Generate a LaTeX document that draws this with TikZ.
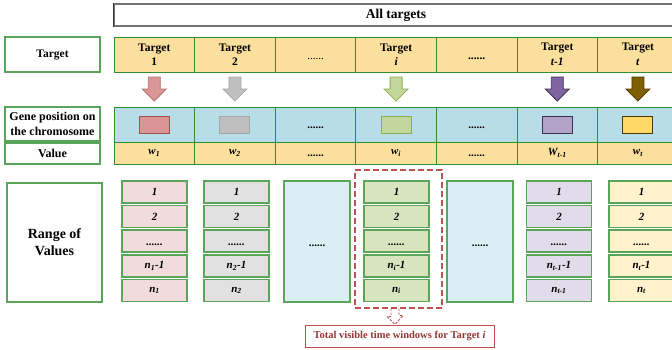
\documentclass[tikz,border=0pt]{standalone}
\usepackage{fontspec}
\setmainfont{Liberation Serif}
\definecolor{cellY}{HTML}{FAE09C}
\definecolor{cellB}{HTML}{B7DEE8}
\definecolor{grn}{HTML}{2F8F2F}
\definecolor{lgrn}{HTML}{5BA55B}
\definecolor{rpink}{HTML}{F2DCDB}
\definecolor{rgray}{HTML}{E1E1E1}
\definecolor{rgreen}{HTML}{D7E4BD}
\definecolor{rpurp}{HTML}{E2DCEA}
\definecolor{ryel}{HTML}{FFF2CC}
\definecolor{rblue}{HTML}{DAEEF3}
\definecolor{redA}{HTML}{D99694}
\definecolor{redD}{HTML}{A0504D}
\definecolor{grayA}{HTML}{BFBFBF}
\definecolor{grayD}{HTML}{A6A6A6}
\definecolor{greenA}{HTML}{C3D69B}
\definecolor{greenD}{HTML}{8DAE50}
\definecolor{purpA}{HTML}{8064A2}
\definecolor{purpB}{HTML}{B3A2C7}
\definecolor{purpD}{HTML}{403152}
\definecolor{brownA}{HTML}{7F6000}
\definecolor{brownD}{HTML}{4A3800}
\definecolor{yelA}{HTML}{FFD966}
\definecolor{callR}{HTML}{C0504D}
\definecolor{callT}{HTML}{943634}
\tikzset{
  cellbase/.style={draw=grn, line width=1pt, minimum width=80.6pt, inner sep=0pt, align=center},
  tcell/.style={cellbase, fill=cellY, minimum height=35pt, font=\bfseries\fontsize{11.5}{14.5}\selectfont},
  gcell/.style={cellbase, fill=cellB, minimum height=35pt, font=\bfseries\fontsize{11}{13}\selectfont},
  vcell/.style={cellbase, fill=cellY, minimum height=22pt, font=\bfseries\itshape\fontsize{11}{13}\selectfont},
  lab/.style={draw=lgrn, line width=1.2pt, fill=white, minimum width=95pt, inner sep=0pt, align=center},
  rbox/.style={draw=lgrn, line width=1.3pt, minimum width=65pt, minimum height=22pt, inner sep=0pt, font=\bfseries\itshape\fontsize{11}{13}\selectfont},
  bigbox/.style={draw=lgrn, line width=1.3pt, fill=rblue, minimum width=66pt, minimum height=121pt, inner sep=0pt, font=\bfseries\fontsize{11}{13}\selectfont},
  gene/.style={minimum width=30pt, minimum height=17pt, inner sep=0pt, line width=1pt},
  barrow/.style={line width=0.8pt},
  dashbox/.style={draw=callR, line width=1.2pt, dash pattern=on 6pt off 3pt, minimum width=87pt, minimum height=138pt, inner sep=0pt},
  callout/.style={draw=callR, line width=1pt, fill=white, minimum width=189pt, minimum height=22pt, inner sep=0pt, text=callT, font=\bfseries\fontsize{10.5}{12}\selectfont}
}
\newcommand{\blkarr}[3]{%
  \filldraw[barrow, fill=#2, draw=#3] (#1-6,77) -- (#1+6,77) -- (#1+6,89) -- (#1+12,89) -- (#1,101) -- (#1-12,89) -- (#1-6,89) -- cycle;}
\newcommand{\dotsdown}[1]{\raisebox{-#1pt}[0pt][0pt]{......}}
\begin{document}
\begin{tikzpicture}[x=1pt, y=-1pt]
\useasboundingbox (0,0) rectangle (672,349);
\clip (0,0) rectangle (672,349);
% top box
\node[draw=gray!90!black, line width=1.5pt, fill=white, minimum width=564pt, minimum height=22pt, inner sep=0pt,
  font=\bfseries\fontsize{13.5}{15}\selectfont] (all) at (396,15) {All targets};
\draw[line width=1.5pt, black!80] (all.north west) -- (all.south west);
% label boxes
\node[lab, minimum height=35pt, font=\bfseries\fontsize{11.5}{14}\selectfont] (lt) at (52.5,54.5) {Target};
\node[lab, minimum height=34pt, font=\bfseries\fontsize{12}{15}\selectfont] (lg) at (52.5,124) {Gene position on\\the chromosome};
\node[lab, minimum height=21pt, font=\bfseries\fontsize{12}{14}\selectfont] (lv) at (52.5,153.5) {Value};
\node[lab, minimum height=119pt, font=\bfseries\fontsize{14}{17}\selectfont] (lr) at (54.5,242.5) {Range of\\Values};
% target row
\node[tcell] (t1) at (154.3,54.5) {Target\\1};
\node[tcell] (t2) at (234.9,54.5) {Target\\2};
\node[tcell, font=\mdseries\fontsize{11}{13}\selectfont] (t3) at (315.5,54.5) {\dotsdown{4.5}};
\node[tcell] (t4) at (396.1,54.5) {Target\\\textit{i}};
\node[tcell] (t5) at (476.7,54.5) {\dotsdown{5}};
\node[tcell] (t6) at (557.3,54.5) {Target\\\textit{t-1}};
\node[tcell] (t7) at (637.9,54.5) {Target\\\textit{t}};
% gene row
\node[gcell] (g1) at (154.3,124.5) {};
\node[gcell] (g2) at (234.9,124.5) {};
\node[gcell] (g3) at (315.5,124.5) {\dotsdown{3.5}};
\node[gcell] (g4) at (396.1,124.5) {};
\node[gcell] (g5) at (476.7,124.5) {\dotsdown{3.5}};
\node[gcell] (g6) at (557.3,124.5) {};
\node[gcell] (g7) at (637.9,124.5) {};
\node[gene, fill=redA, draw=redD] (p1) at (g1) {};
\node[gene, fill=grayA, draw=grayD] (p2) at (g2) {};
\node[gene, fill=greenA, draw=greenD] (p4) at (g4) {};
\node[gene, fill=purpB, draw=purpD] (p6) at (g6) {};
\node[gene, fill=yelA, draw=brownD] (p7) at (g7) {};
% value row
\node[vcell] (v1) at (154.3,153) {w\textsubscript{1}};
\node[vcell] (v2) at (234.9,153) {w\textsubscript{2}};
\node[vcell, font=\bfseries\fontsize{11}{13}\selectfont] (v3) at (315.5,153) {\dotsdown{3}};
\node[vcell] (v4) at (396.1,153) {w\textsubscript{i}};
\node[vcell, font=\bfseries\fontsize{11}{13}\selectfont] (v5) at (476.7,153) {\dotsdown{3}};
\node[vcell] (v6) at (557.3,153) {W\textsubscript{t-1}};
\node[vcell] (v7) at (637.9,153) {w\textsubscript{t}};
% block arrows
\blkarr{154.3}{redA}{redD!80}
\blkarr{234.9}{grayA}{grayD}
\blkarr{396.1}{greenA}{greenD}
\blkarr{557.3}{purpA}{purpD}
\blkarr{637.9}{brownA}{brownD}
% range of values
\foreach \k/\x/\f/\s in {1/154.5/rpink/1, 2/236.5/rgray/2, 4/396.5/rgreen/i, 6/559/rpurp/t-1, 7/641.5/ryel/t}{
  \node[rbox, fill=\f] (r\k-a) at (\x,192) {1};
  \node[rbox, fill=\f] (r\k-b) at (\x,216.5) {2};
  \node[rbox, fill=\f] (r\k-c) at (\x,241) {\dotsdown{4}};
  \node[rbox, fill=\f] (r\k-d) at (\x,266) {n\textsubscript{\s}-1};
  \node[rbox, fill=\f] (r\k-e) at (\x,290.5) {n\textsubscript{\s}};
}
\node[bigbox] (b3) at (317,241.5) {\dotsdown{4.5}};
\node[bigbox] (b5) at (480,241.5) {\dotsdown{4.5}};
% dashed window and callout
\node[dashbox] (win) at (398.5,239) {};
\node[callout] (co) at (399.5,336) {Total visible time windows for Target \textit{i}};
\draw[draw=callR, line width=0.9pt, dash pattern=on 2.5pt off 1.5pt]
  ([xshift=-7.5pt]win.south) -- ++(0,8) -- ++(-4,0) -- ([xshift=-4.5pt]co.north) -- ++(8,-9) -- ++(-4,0) -- ([xshift=0.5pt]win.south);
\end{tikzpicture}
\end{document}
